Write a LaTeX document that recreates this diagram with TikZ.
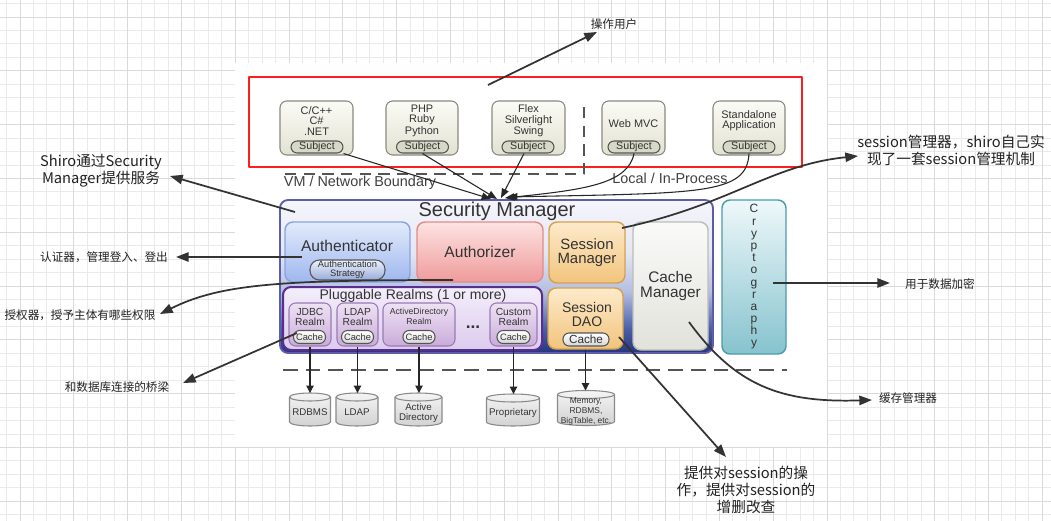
\documentclass[tikz,border=0pt]{standalone}
\usepackage{fontspec}
\setmainfont{Liberation Sans}
\newfontfamily\cjk{Noto Sans CJK SC}
\usetikzlibrary{arrows.meta,calc}
\definecolor{gridmin}{HTML}{EAEAEA}
\definecolor{gridmaj}{HTML}{DADADA}
\definecolor{txt}{HTML}{333333}
\definecolor{annc}{HTML}{333333}
\definecolor{anntxt}{HTML}{222222}
\definecolor{redb}{HTML}{FF1E1E}
\definecolor{subjborder}{HTML}{8A8A80}
\definecolor{subjtop}{HTML}{FBFBF6}
\definecolor{subjbot}{HTML}{E2E2D2}
\definecolor{subjpillfill}{HTML}{D6D9C6}
\definecolor{pillborder}{HTML}{555555}
\definecolor{bndc}{HTML}{555555}
\definecolor{smnavy}{HTML}{25367F}
\definecolor{smblue}{HTML}{4A5FA8}
\definecolor{smmid}{HTML}{B4BEE2}
\definecolor{smlight}{HTML}{E4E7F4}
\definecolor{smtop}{HTML}{F5F5FB}
\definecolor{smborder}{HTML}{5C5EA8}
\definecolor{authntop}{HTML}{E2EBFB}
\definecolor{authnbot}{HTML}{9FB7EF}
\definecolor{authnbd}{HTML}{8AA3E0}
\definecolor{authztop}{HTML}{FDE3E3}
\definecolor{authzbot}{HTML}{EF9A9A}
\definecolor{authzbd}{HTML}{E58A8A}
\definecolor{sesstop}{HTML}{FDEACB}
\definecolor{sessbot}{HTML}{F2C47C}
\definecolor{sessbd}{HTML}{D4A24E}
\definecolor{realmstop}{HTML}{F4EEFA}
\definecolor{realmsbot}{HTML}{DCCBEE}
\definecolor{realmsbd}{HTML}{5B2D8E}
\definecolor{realmtop}{HTML}{EFE2F4}
\definecolor{realmbot}{HTML}{C9ACD9}
\definecolor{realmbd}{HTML}{9A7AB5}
\definecolor{cmtop}{HTML}{FAFAF8}
\definecolor{cmbot}{HTML}{E2E2DC}
\definecolor{cmbd}{HTML}{BDBDB5}
\definecolor{crytop}{HTML}{EEF8FA}
\definecolor{crybot}{HTML}{86C3CE}
\definecolor{crybd}{HTML}{4C9CAA}
\definecolor{dbtop}{HTML}{F4F4F4}
\definecolor{dbbot}{HTML}{D2D2D2}
\definecolor{dbbd}{HTML}{8A8A8A}
\pgfdeclareverticalshading{smshade}{100bp}{color(0bp)=(smnavy); color(25bp)=(smnavy); color(33bp)=(smblue); color(45bp)=(smmid); color(58bp)=(smlight); color(75bp)=(smtop); color(100bp)=(smtop)}
\def\pxu{0.75pt}
\tikzset{
  gmin/.style={draw=gridmin, line width=0.75pt},
  gmaj/.style={draw=gridmaj, line width=0.75pt},
  redframe/.style={draw=redb, line width=2.1pt, inner sep=0pt, outer sep=0pt},
  subjbox/.style={draw=subjborder, line width=0.8pt, rounded corners=5pt, top color=subjtop, bottom color=subjbot, inner sep=0pt, minimum height=54*\pxu},
  subjtxt/.style={text=txt, font=\fontsize{8.2}{7.6}\selectfont, align=center, inner sep=0pt},
  pill/.style={draw=pillborder, line width=0.8pt, rounded corners=4.6pt, inner sep=0pt, text=txt},
  subjpill/.style={pill, fill=subjpillfill, minimum width=52*\pxu, minimum height=12*\pxu, font=\fontsize{8}{8}\selectfont},
  cachepill/.style={pill, top color=white, bottom color=black!16, minimum height=13*\pxu, font=\fontsize{7}{7}\selectfont},
  bnd/.style={draw=bndc, line width=1.1pt, dash pattern=on 8.5pt off 5.5pt},
  bndtxt/.style={text=black!75, font=\fontsize{10.8}{11}\selectfont, inner sep=0pt},
  subarr/.style={draw=black!85, line width=0.8pt, -{Triangle[length=7pt,width=5.5pt]}},
  dbarr/.style={draw=black!85, line width=0.8pt, -{Triangle[length=5.5pt,width=5.5pt]}},
  smbox/.style={draw=smborder, line width=1.4pt, rounded corners=6pt, shading=smshade, inner sep=0pt},
  box/.style={rounded corners=6pt, inner sep=0pt, line width=1.1pt, text=txt, align=center},
  authnbox/.style={box, draw=authnbd, top color=authntop, bottom color=authnbot},
  authzbox/.style={box, draw=authzbd, top color=authztop, bottom color=authzbot, font=\fontsize{11.7}{12}\selectfont},
  sessbox/.style={box, draw=sessbd, top color=sesstop, bottom color=sessbot},
  realmsbox/.style={box, draw=realmsbd, line width=1.5pt, top color=realmstop, bottom color=realmsbot},
  realmbox/.style={box, draw=realmbd, line width=0.8pt, rounded corners=5pt, top color=realmtop, bottom color=realmbot, minimum height=43*\pxu},
  realmtxt/.style={text=txt, font=\fontsize{7.7}{7.5}\selectfont, align=center, inner sep=0pt},
  cmbox/.style={box, draw=cmbd, top color=cmtop, bottom color=cmbot, font=\fontsize{11.5}{11.3}\selectfont},
  crybox/.style={box, draw=crybd, top color=crytop, bottom color=crybot, font=\fontsize{9}{9.13}\selectfont},
  dbshape/.style={draw=dbbd, line width=0.8pt, top color=dbtop, bottom color=dbbot},
  dbline/.style={draw=dbbd, line width=0.8pt},
  dbnode/.style={inner sep=0pt, outer sep=0pt},
  dbtxt/.style={text=txt, font=\fontsize{7.3}{7.5}\selectfont, align=center, inner sep=0pt},
  ann/.style={draw=annc, line width=1.3pt, -{Triangle[length=9.5pt,width=7pt]}},
  annsmall/.style={text=anntxt, font=\cjk\fontsize{8.7}{11}\selectfont, inner sep=0pt, align=center},
  annbig/.style={text=anntxt, font=\cjk\fontsize{11}{12.9}\selectfont, inner sep=0pt, align=center}
}
\newcommand\dbcyl[6]{%
  \path[dbshape] ({#2-#4/2},{#3-#5/2+4}) -- ({#2-#4/2},{#3+#5/2-4})
     arc[start angle=180,end angle=360,x radius=#4*0.375pt,y radius=3pt]
     -- ({#2+#4/2},{#3-#5/2+4})
     arc[start angle=0,end angle=180,x radius=#4*0.375pt,y radius=3pt] -- cycle;
  \draw[dbline] ({#2-#4/2},{#3-#5/2+4}) arc[start angle=180,end angle=360,x radius=#4*0.375pt,y radius=3pt];
  \node[dbnode, minimum width=#4*\pxu, minimum height=#5*\pxu] (#1) at (#2,#3) {};
  \node[dbtxt] (#1t) at (#2,{#3+3}) {#6};
}
\begin{document}
\begin{tikzpicture}[x=0.75pt, y=-0.75pt, line join=round]
\useasboundingbox (0,0) rectangle (1051,521);
% background grid
\fill[white] (0,0) rectangle (1051,521);
\foreach \i in {0,...,77} {\draw[gmin] ({6.6+13.45*\i},0) -- ({6.6+13.45*\i},521);}
\foreach \i in {0,...,38} {\draw[gmin] (0,{3.6+13.45*\i}) -- (1051,{3.6+13.45*\i});}
\foreach \i in {0,...,19} {\draw[gmaj] ({20.05+53.8*\i},0) -- ({20.05+53.8*\i},521);}
\foreach \i in {0,...,9} {\draw[gmaj] (0,{17.05+53.8*\i}) -- (1051,{17.05+53.8*\i});}
\fill[white] (235,63) rectangle (827,447);

% red frame
\node[redframe, minimum width=553*\pxu, minimum height=90*\pxu] (red) at (525.5,122) {};

% subjects
\node[subjbox, minimum width=73*\pxu] (sC) at (316.5,128) {};
\node[subjtxt] (tC) at (316.5,121) {C/C++\\C\#\\.NET};
\node[subjpill] (pC) at (317,147) {Subject};
\node[subjbox, minimum width=72*\pxu] (sP) at (422,128) {};
\node[subjtxt] (tP) at (422,121) {PHP\\Ruby\\Python};
\node[subjpill] (pP) at (422.5,147) {Subject};
\node[subjbox, minimum width=73*\pxu] (sF) at (528.5,128) {};
\node[subjtxt] (tF) at (528.5,121) {Flex\\Silverlight\\Swing};
\node[subjpill] (pF) at (528,147) {Subject};
\node[subjbox, minimum width=63*\pxu] (sW) at (633.5,128) {};
\node[subjtxt] (tW) at (633.5,124) {Web MVC};
\node[subjpill] (pW) at (634,147) {Subject};
\node[subjbox, minimum width=72*\pxu] (sS) at (749,128) {};
\node[subjtxt] (tS) at (749,121) {Standalone\\Application};
\node[subjpill] (pS) at (749,147) {Subject};

% boundary
\coordinate (dl1) at (285,174);
\coordinate (dl2) at (584,174);
\coordinate (dl3) at (584,100);
\draw[bnd] (dl1) -- (dl2) -- (dl3);
\node[bndtxt] (vm) at (360,183) {VM / Network Boundary};
\node[bndtxt] (loc) at (670,178) {Local / In-Process};

% security manager
\node[smbox, minimum width=433*\pxu, minimum height=153*\pxu] (sm) at (496.5,276.5) {};
\node[text=txt, font=\fontsize{15}{16}\selectfont, inner sep=0pt] (smt) at (497,211) {Security Manager};
\node[authnbox, minimum width=125*\pxu, minimum height=60*\pxu] (authn) at (347.5,252) {};
\node[text=txt, font=\fontsize{11.7}{12}\selectfont, inner sep=0pt] (authnt) at (347,246) {Authenticator};
\node[pill, rounded corners=7pt, top color=authntop!60, bottom color=authnbot!80!gray, minimum width=75*\pxu, minimum height=20*\pxu, font=\fontsize{7}{6.8}\selectfont, align=center] (strat) at (347.5,270) {Authentication\\Strategy};
\node[authzbox, minimum width=126*\pxu, minimum height=60*\pxu] (authz) at (480,252) {Authorizer};
\node[sessbox, minimum width=76*\pxu, minimum height=61*\pxu, font=\fontsize{11.2}{10.5}\selectfont] (smgr) at (587,252.5) {Session\\Manager};
\node[realmsbox, minimum width=259*\pxu, minimum height=63*\pxu] (realms) at (412.5,318.5) {};
\node[text=txt, font=\fontsize{10.5}{11}\selectfont, inner sep=0pt] (realmst) at (413,296) {Pluggable Realms (1 or more)};
\node[realmbox, minimum width=42*\pxu] (rJ) at (310,324.5) {};
\node[realmtxt] (rJt) at (310,317) {JDBC\\Realm};
\node[cachepill, minimum width=32*\pxu] (cJ) at (309.5,337) {Cache};
\node[realmbox, minimum width=41*\pxu] (rL) at (357.5,324.5) {};
\node[realmtxt] (rLt) at (357.5,317) {LDAP\\Realm};
\node[cachepill, minimum width=32*\pxu] (cL) at (357.5,337) {Cache};
\node[realmbox, minimum width=72*\pxu] (rA) at (419,324.5) {};
\node[realmtxt, font=\fontsize{6.5}{7}\selectfont] (rAt) at (419,316.5) {ActiveDirectory\\Realm};
\node[cachepill, minimum width=32*\pxu] (cA) at (419,337) {Cache};
\node[text=txt, font=\bfseries\fontsize{13}{13}\selectfont, inner sep=0pt] (dots) at (473,327) {...};
\node[realmbox, minimum width=47*\pxu] (rC) at (513.5,324.5) {};
\node[realmtxt] (rCt) at (513.5,317) {Custom\\Realm};
\node[cachepill, minimum width=33*\pxu] (cC) at (513.5,337) {Cache};
\node[sessbox, minimum width=75*\pxu, minimum height=61*\pxu] (sdao) at (585.5,318.5) {};
\node[text=txt, font=\fontsize{10.5}{9.8}\selectfont, align=center, inner sep=0pt] (sdaot) at (587,314.5) {Session\\DAO};
\node[cachepill, minimum width=46*\pxu, font=\fontsize{8.8}{8.8}\selectfont] (cD) at (586,339.5) {Cache};
\node[cmbox, minimum width=75*\pxu, minimum height=128*\pxu] (cm) at (670.5,286) {Cache\\Manager};
\node[crybox, minimum width=64*\pxu, minimum height=154*\pxu] (cry) at (754,277) {C\\r\\y\\p\\t\\o\\g\\r\\a\\p\\h\\y};

% subject arrows
\coordinate (tipC) at (491,199);
\coordinate (tipP) at (497,199);
\coordinate (tipF) at (501,198);
\coordinate (tipW) at (505,198);
\coordinate (tipS) at (508,197);
\draw[subarr] (pC.south east) -- (tipC);
\draw[subarr] (pP.south) -- (tipP);
\draw[subarr] ($(pF.south)+(-4,0)$) -- (tipF);
\draw[subarr] (pW.south) .. controls (628,185) and (580,190) .. (tipW);
\draw[subarr] (pS.south) .. controls (747,195) and (700,193) .. (tipS);

% bottom boundary
\coordinate (bl1) at (283,370);
\coordinate (bl2) at (787,370);
\draw[bnd, dash pattern=on 11pt off 6pt] (bl1) -- (bl2);

% data stores
\dbcyl{db1}{310}{409.5}{41}{33}{RDBMS}
\dbcyl{db2}{357}{409.5}{42}{33}{LDAP}
\dbcyl{db3}{418.5}{409.5}{47}{33}{Active\\Directory}
\dbcyl{db4}{513}{410}{53}{32}{Proprietary}
\dbcyl{db5}{586}{408}{57}{35}{{\fontsize{6.3}{6.75}\selectfont Memory,}\\{\fontsize{6.3}{6.75}\selectfont RDBMS,}\\{\fontsize{6.3}{6.75}\selectfont BigTable, etc.}}
\draw[dbarr] (rJ.south) -- (rJ.south |- db1.north);
\draw[dbarr] (rL.south) -- (rL.south |- db2.north);
\draw[dbarr] (rA.south) -- (rA.south |- db3.north);
\draw[dbarr] (rC.south) -- (rC.south |- db4.north);
\draw[dbarr] (sdao.south) -- (sdao.south |- db5.north);

% annotations
\node[annsmall] (n1) at (614,24) {操作用户};
\node[annbig] (n2) at (101,171) {Shiro通过Security\\Manager提供服务};
\node[annsmall] (n3) at (104,257) {认证器，管理登入、登出};
\node[annsmall] (n4) at (80,315) {授权器，授予主体有哪些权限};
\node[annsmall] (n5) at (117,387) {和数据库连接的桥梁};
\node[annbig] (n6) at (951,150) {session管理器，shiro自己实\\现了一套session管理机制};
\node[annsmall] (n7) at (940,284) {用于数据加密};
\node[annsmall] (n8) at (908,398) {缓存管理器};
\node[annbig] (n9) at (746,490) {提供对session的操\\作，提供对session的\\增删改查};

\coordinate (s1) at (488,85);  \coordinate (e1) at (597,32);
\coordinate (s2) at (295,212); \coordinate (e2) at (170,176);
\coordinate (s3) at (302,257); \coordinate (e3) at (176,257);
\coordinate (s4) at (453,280); \coordinate (e4) at (160,314);
\coordinate (s5) at (297,333); \coordinate (e5) at (183,383);
\coordinate (s6) at (622,228); \coordinate (e6) at (858,156);
\coordinate (s7) at (773,283); \coordinate (e7) at (890,283);
\coordinate (s8) at (689,322); \coordinate (e8) at (872,400);
\coordinate (s9) at (619,337); \coordinate (e9) at (726,457);
\draw[ann] (s1) -- (e1);
\draw[ann] (s2) -- (e2);
\draw[ann] (s3) -- (e3);
\draw[ann] (s4) .. controls (280,280) and (220,284) .. (e4);
\draw[ann] (s5) -- (e5);
\draw[ann] (s6) .. controls (730,205) and (770,165) .. (e6);
\draw[ann] (s7) -- (e7);
\draw[ann] (s8) .. controls (735,385) and (780,403) .. (e8);
\draw[ann] (s9) -- (e9);
\end{tikzpicture}
\end{document}
